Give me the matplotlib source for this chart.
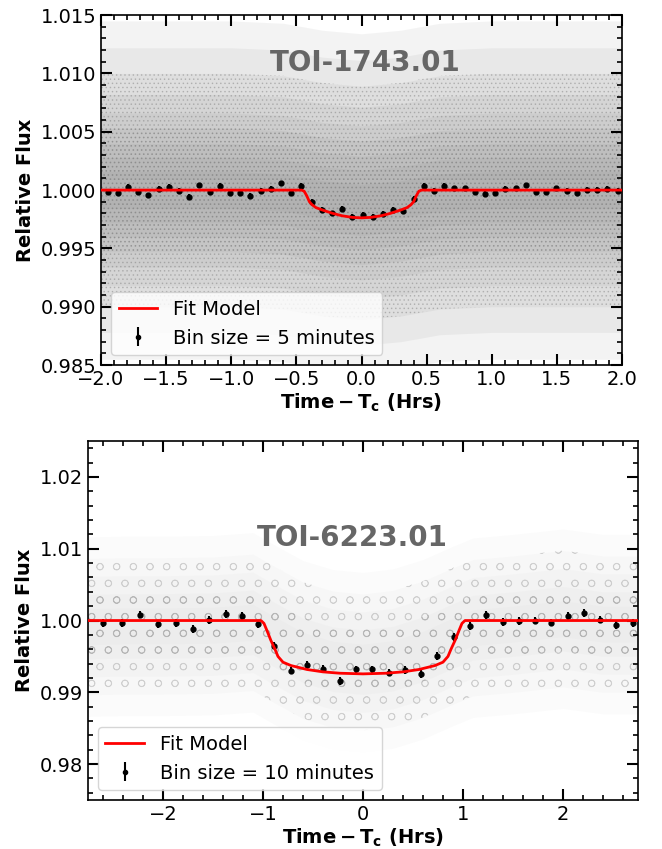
import numpy as np
import matplotlib
matplotlib.use('Agg')
import matplotlib.pyplot as plt
from matplotlib.ticker import MultipleLocator, ScalarFormatter
from matplotlib.lines import Line2D

plt.rcParams['hatch.linewidth'] = 0.6

# ---- TOI-1743.01 (top) ----
bin_t1 = [-1.949, -1.871, -1.792, -1.714, -1.636, -1.558, -1.479, -1.401, -1.323, -1.244,
          -1.166, -1.088, -1.009, -0.931, -0.853, -0.775, -0.696, -0.618, -0.540, -0.461,
          -0.383, -0.305, -0.226, -0.148, -0.070, 0.009, 0.087, 0.165, 0.243, 0.322,
          0.400, 0.478, 0.557, 0.635, 0.713, 0.792, 0.870, 0.948, 1.026, 1.105,
          1.183, 1.261, 1.340, 1.418, 1.496, 1.575, 1.653, 1.731, 1.809, 1.888, 1.966]
bin_f1 = [0.99986, 0.99977, 1.00029, 0.99983, 0.99954, 1.00006, 1.00023, 0.99994, 0.99943, 1.00040,
          0.99983, 1.00034, 0.99977, 0.99977, 0.99949, 0.99994, 1.00006, 1.00057, 0.99977, 1.00034,
          0.99897, 0.99829, 0.99800, 0.99840, 0.99771, 0.99785, 0.99771, 0.99794, 0.99829, 0.99823,
          0.99926, 1.00034, 0.99994, 1.00034, 1.00014, 1.00014, 0.99983, 0.99966, 0.99971, 1.00006,
          1.00014, 1.00040, 0.99983, 0.99983, 1.00014, 0.99994, 0.99977, 1.00000, 1.00000, 1.00011, 0.99994]
bin_err1 = 0.00025

mod_t1 = [-2.0, -0.46, -0.44, -0.42, -0.40, -0.38, -0.35, -0.30, -0.22, -0.15, -0.07, 0.0,
          0.07, 0.15, 0.22, 0.30, 0.35, 0.38, 0.40, 0.42, 0.44, 0.46, 2.0]
mod_f1 = [1.0, 1.0, 0.99990, 0.99950, 0.99900, 0.99875, 0.99850, 0.99829, 0.99800, 0.99780, 0.99766, 0.99762,
          0.99766, 0.99780, 0.99800, 0.99829, 0.99850, 0.99875, 0.99900, 0.99950, 0.99990, 1.0, 1.0]

# unbinned cloud: centre line and half-widths of the density levels
cloud_t1 = [-2.0, -1.0, -0.6, -0.3, 0.0, 0.3, 0.6, 1.0, 2.0]
cloud_c1 = [1.0000, 1.0000, 0.9998, 0.9992, 0.9989, 0.9992, 0.9998, 1.0000, 1.0000]
cloud_w1 = [0.0145, 0.0122, 0.0100, 0.0082, 0.0066, 0.0053, 0.0040, 0.0028, 0.0016]

# ---- TOI-6223.01 (bottom) ----
bin_t2 = [-2.597, -2.414, -2.234, -2.051, -1.871, -1.701, -1.538, -1.374, -1.211, -1.048,
          -0.888, -0.724, -0.561, -0.398, -0.234, -0.071, 0.095, 0.258, 0.418, 0.578,
          0.745, 0.908, 1.071, 1.235, 1.398, 1.561, 1.721, 1.885, 2.048, 2.211,
          2.375, 2.535, 2.701]
bin_f2 = [0.99963, 0.99968, 1.00084, 0.99954, 0.99968, 0.99884, 1.00009, 1.00093, 1.00065, 0.99954,
          0.99652, 0.99304, 0.99378, 0.99327, 0.99164, 0.99318, 0.99318, 0.99276, 0.99313, 0.99257,
          0.99508, 0.99768, 0.99921, 1.00079, 0.99977, 0.99991, 1.00000, 0.99972, 1.00065, 1.00111,
          1.00014, 0.99940, 0.99968]
bin_err2 = 0.00055

mod_t2 = [-2.75, -1.02, -0.99, -0.96, -0.92, -0.88, -0.85, -0.80, -0.72, -0.56, -0.40, -0.23, 0.0,
          0.23, 0.40, 0.56, 0.72, 0.80, 0.85, 0.88, 0.92, 0.96, 0.99, 1.02, 2.75]
mod_f2 = [1.0, 1.0, 0.9996, 0.9986, 0.9972, 0.9960, 0.9950, 0.9942, 0.99373, 0.99318, 0.99285, 0.99266, 0.99257,
          0.99266, 0.99285, 0.99318, 0.99373, 0.9942, 0.9950, 0.9960, 0.9972, 0.9986, 0.9996, 1.0, 1.0]

cloud_t2 = [-2.75, -2.4, -2.0, -1.5, -1.1, -0.9, -0.6, -0.3, 0.0, 0.3, 0.6, 0.9, 1.1, 1.5, 2.0, 2.4, 2.75]
cloud_c2 = [0.99915, 0.99925, 0.99925, 0.99935, 0.99975, 0.99815, 0.99585, 0.9946, 0.9942, 0.9947, 0.9960,
            0.99785, 0.9990, 0.9995, 1.00025, 0.9995, 0.9995]
cloud_w2 = [0.0125, 0.0095, 0.0070, 0.0045, 0.0025]


def style_axes(ax):
    ax.tick_params(which='both', direction='in', top=True, right=True, labelsize=14)
    ax.tick_params(which='major', length=8, width=1.5)
    ax.tick_params(which='minor', length=3.5, width=1.2)
    for s in ax.spines.values():
        s.set_linewidth(1.2)
    ax.yaxis.set_major_formatter(ScalarFormatter(useOffset=False))
    ax.set_ylabel('Relative Flux', fontsize=14, fontweight='bold')
    ax.set_xlabel(r'$\mathbf{Time-T_c}$ (Hrs)', fontsize=14, fontweight='bold', labelpad=2)


fig = plt.figure(figsize=(6.62, 8.49), dpi=100)

# top panel
ax1 = fig.add_axes([0.1526, 0.570, 0.787, 0.4122])
c1 = np.array(cloud_c1)
for k, w in enumerate(cloud_w1):
    ax1.fill_between(cloud_t1, c1 - w, c1 + w, color='#7a7a7a', alpha=0.085, lw=0, zorder=1)
    if k in (2, 5):
        ax1.fill_between(cloud_t1, c1 - w, c1 + w, facecolor='none',
                         edgecolor=(0.55, 0.55, 0.55, 0.45), hatch='....', lw=0, zorder=1)
ax1.errorbar(bin_t1, bin_f1, yerr=bin_err1, fmt='o', color='k', ms=3.5, elinewidth=1.5, capsize=0, zorder=4)
ax1.plot(mod_t1, mod_f1, color='red', lw=2, zorder=5)
ax1.set_xlim(-2.0, 2.0)
ax1.set_ylim(0.985, 1.015)
ax1.xaxis.set_major_locator(MultipleLocator(0.5))
ax1.xaxis.set_minor_locator(MultipleLocator(0.1))
ax1.yaxis.set_major_locator(MultipleLocator(0.005))
ax1.yaxis.set_minor_locator(MultipleLocator(0.001))
style_axes(ax1)
ax1.text(0.507, 0.862, 'TOI-1743.01', transform=ax1.transAxes, ha='center', va='center',
         fontsize=20, fontweight='bold', color='#666666', zorder=6)
h_line = Line2D([], [], color='red', lw=2)
h_bin1 = ax1.errorbar([], [], yerr=[], fmt='o', color='k', ms=3, elinewidth=1.5)
ax1.legend([h_line, h_bin1], ['Fit Model', 'Bin size = 5 minutes'], loc='lower left', fontsize=14)

# bottom panel
ax2 = fig.add_axes([0.1329, 0.0577, 0.8308, 0.4228])
c2 = np.array(cloud_c2)
for k, w in enumerate(cloud_w2):
    ax2.fill_between(cloud_t2, c2 - w, c2 + w, color='#9a9a9a', alpha=0.035, lw=0, zorder=1)
    if k in (1, 3):
        ax2.fill_between(cloud_t2, c2 - w, c2 + w, facecolor='none',
                         edgecolor=(0.6, 0.6, 0.6, 0.35), hatch='o', lw=0, zorder=1)
ax2.errorbar(bin_t2, bin_f2, yerr=bin_err2, fmt='o', color='k', ms=3.5, elinewidth=1.5, capsize=0, zorder=4)
ax2.plot(mod_t2, mod_f2, color='red', lw=2, zorder=5)
ax2.set_xlim(-2.75, 2.75)
ax2.set_ylim(0.975, 1.025)
ax2.xaxis.set_major_locator(MultipleLocator(1))
ax2.xaxis.set_minor_locator(MultipleLocator(0.2))
ax2.yaxis.set_major_locator(MultipleLocator(0.01))
ax2.yaxis.set_minor_locator(MultipleLocator(0.002))
style_axes(ax2)
ax2.text(-0.11, 1.0115, 'TOI-6223.01', ha='center', va='center',
         fontsize=20, fontweight='bold', color='#666666', zorder=6)
h_bin2 = ax2.errorbar([], [], yerr=[], fmt='o', color='k', ms=3, elinewidth=1.5)
ax2.legend([h_line, h_bin2], ['Fit Model', 'Bin size = 10 minutes'], loc='lower left', fontsize=14)

fig.savefig('out.png', dpi=100)
